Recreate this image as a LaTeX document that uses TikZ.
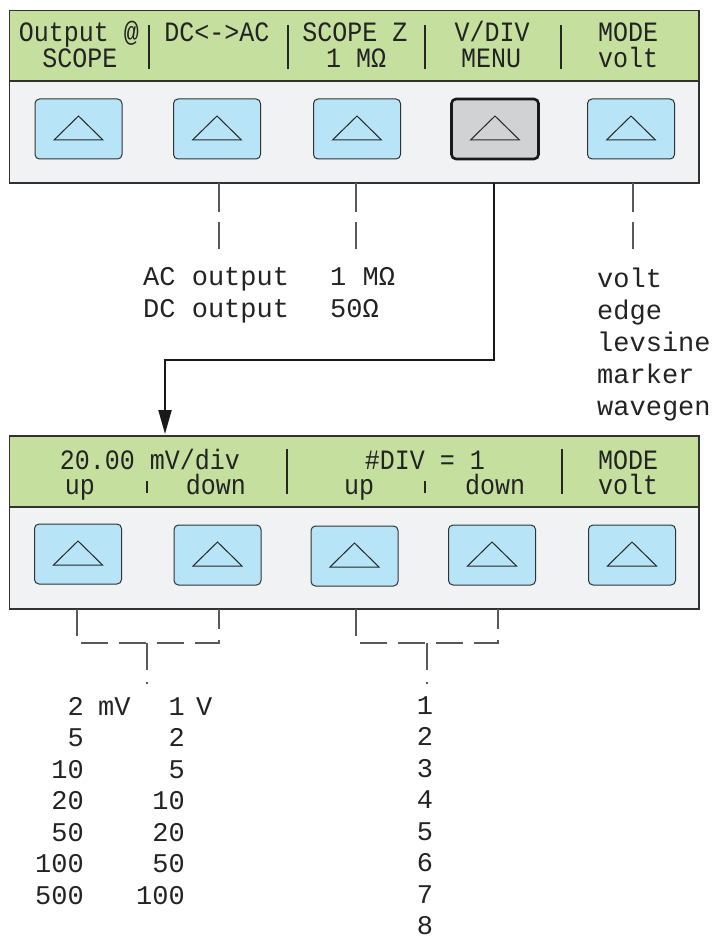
\documentclass[tikz,border=0pt]{standalone}
\usepackage{fontspec}
\usepackage{graphicx}
\newfontfamily\lcdfont{Liberation Mono}
\usetikzlibrary{arrows.meta,calc}
\definecolor{lcdgreen}{RGB}{197,223,158}
\definecolor{panelgrey}{RGB}{241,242,244}
\definecolor{btnblue}{RGB}{184,228,248}
\definecolor{btngrey}{RGB}{209,210,212}
\definecolor{edgecol}{RGB}{50,50,50}
\definecolor{inkcol}{RGB}{35,35,35}
\newcommand{\lcdtext}[1]{\scalebox{1}[1.12]{\lcdfont\fontsize{25}{25}\selectfont #1}}
\newcommand{\labfont}{\lcdfont\fontsize{27}{27}\selectfont}
\begin{document}
\begin{tikzpicture}[x=1pt,y=-1pt,
  panelbox/.style={rectangle, fill=panelgrey, draw=none, outer sep=0pt, inner sep=0pt},
  dispbox/.style={rectangle, fill=lcdgreen, draw=none, outer sep=0pt, inner sep=0pt},
  btn/.style={rectangle, rounded corners=4.5pt, draw=edgecol, line width=1pt, fill=btnblue, minimum width=87pt, minimum height=60pt, inner sep=0pt, outer sep=0pt},
  btnsel/.style={btn, fill=btngrey, draw=black!90, line width=2.6pt},
  tri/.style={draw=black!85, line width=1pt, line join=miter},
  dtxt/.style={inner sep=0pt, anchor=base, text=inkcol},
  lab/.style={inner sep=0pt, anchor=base west, font=\labfont, text=inkcol},
  sep/.style={line width=2pt, draw=black!85},
  smallsep/.style={line width=1.8pt, draw=black!85},
  conn/.style={line width=1.2pt, draw=black!65, dash pattern=on 29pt off 10pt},
  brk/.style={line width=1.2pt, draw=black!65, dash pattern=on 27pt off 11pt},
  stem/.style={line width=1.2pt, draw=black!65, dash pattern=on 27pt off 12pt on 1.5pt off 30pt},
  arr/.style={line width=2pt, draw=black!90, -{Triangle[length=24pt,width=13pt]}},
  outerframe/.style={line width=1.6pt, draw=edgecol},
  divider/.style={line width=1.2pt, draw=edgecol}
]
\useasboundingbox (0,0) rectangle (713,936);

% ---------------- Panel 1 ----------------
\node[panelbox, minimum width=689.5pt, minimum height=172.5pt] (p1) at (354.25,96.75) {};
\node[dispbox, minimum width=689.5pt, minimum height=70.5pt] (d1) at (354.25,45.75) {};
\draw[divider] (d1.south west) -- (d1.south east);
\draw[outerframe] (p1.north west) rectangle (p1.south east);

\draw[sep] (149,25) -- (149,69);
\draw[sep] (287.5,25) -- (287.5,69);
\draw[sep] (424.5,25) -- (424.5,69);
\draw[sep] (561,25) -- (561,69);

\node[dtxt] (t11) at (79,42) {\lcdtext{Output @}};
\node[dtxt] (t12) at (80,68) {\lcdtext{SCOPE}};
\node[dtxt] (t13) at (217,42) {\lcdtext{DC<->AC}};
\node[dtxt] (t14) at (355,42) {\lcdtext{SCOPE Z}};
\node[dtxt] (t15) at (356,68) {\lcdtext{1 MΩ}};
\node[dtxt] (t16) at (492,42) {\lcdtext{V/DIV}};
\node[dtxt] (t17) at (491,68) {\lcdtext{MENU}};
\node[dtxt] (t18) at (628,42) {\lcdtext{MODE}};
\node[dtxt] (t19) at (628,68) {\lcdtext{volt}};

\node[btn] (b11) at (78.5,129) {};
\node[btn] (b12) at (217,129) {};
\node[btn] (b13) at (357,129) {};
\node[btnsel] (b14) at (495,129) {};
\node[btn] (b15) at (631,129) {};

% ---------------- Panel 2 ----------------
\node[panelbox, minimum width=689.5pt, minimum height=173pt] (p2) at (354.25,522.5) {};
\node[dispbox, minimum width=689.5pt, minimum height=71pt] (d2) at (354.25,471.5) {};
\draw[divider] (d2.south west) -- (d2.south east);
\draw[outerframe] (p2.north west) rectangle (p2.south east);

\draw[sep] (287,449) -- (287,494);
\draw[sep] (562,449) -- (562,494);
\draw[smallsep] (147,481) -- (147,493);
\draw[smallsep] (425,481) -- (425,493);

\node[dtxt] (t21) at (150,469) {\lcdtext{20.00 mV/div}};
\node[dtxt] (t22) at (80,494) {\lcdtext{up}};
\node[dtxt] (t23) at (216,494) {\lcdtext{down}};
\node[dtxt] (t24) at (425,469) {\lcdtext{\#DIV = 1}};
\node[dtxt] (t25) at (359,494) {\lcdtext{up}};
\node[dtxt] (t26) at (495,494) {\lcdtext{down}};
\node[dtxt] (t27) at (628,469) {\lcdtext{MODE}};
\node[dtxt] (t28) at (628,494) {\lcdtext{volt}};

\node[btn] (b21) at (78,554) {};
\node[btn] (b22) at (217.5,555) {};
\node[btn] (b23) at (354.5,556) {};
\node[btn] (b24) at (492,555) {};
\node[btn] (b25) at (632,555) {};

% triangles
\foreach \b in {b11,b12,b13,b14,b15,b21,b22,b23,b24,b25}{
  \draw[tri] ([shift={(-24.5,11)}]\b.center) -- ([shift={(24.5,11)}]\b.center) -- ([shift={(0,-13)}]\b.center) -- cycle;
}

% ---------------- Panel 1 connectors ----------------
\coordinate (c12) at (219,249);
\coordinate (c13) at (356,249);
\coordinate (c15) at (633,249);
\draw[conn] (c12 |- p1.south) -- (c12);
\draw[conn] (c13 |- p1.south) -- (c13);
\draw[conn] (c15 |- p1.south) -- (c15);

\node[lab] (l1) at (143,285) {AC output};
\node[lab] (l2) at (143,317) {DC output};
\node[lab] (l3) at (330,285) {1 MΩ};
\node[lab] (l4) at (330,317) {50Ω};

\node[lab] (m1) at (597,287) {volt};
\node[lab] (m2) at (597,319) {edge};
\node[lab] (m3) at (597,351) {levsine};
\node[lab] (m4) at (597,383) {marker};
\node[lab] (m5) at (597,415) {wavegen};

% arrow from V/DIV MENU key to second panel
\coordinate (turn) at (165,360);
\coordinate (arrtip) at (165,434);
\draw[arr] (494,183) |- (turn) -- (arrtip);

% ---------------- Panel 2 connectors ----------------
\coordinate (k1) at (77,643);
\coordinate (k2) at (219,643);
\coordinate (k3) at (356,643);
\coordinate (k4) at (498,643);
\draw[brk] (k1 |- p2.south) -- (k1) -- (k2) -- (k2 |- p2.south);
\draw[brk] (k3 |- p2.south) -- (k3) -- (k4) -- (k4 |- p2.south);
\coordinate (s1) at (147,643);
\coordinate (s2) at (427,643);
\draw[stem] (s1) -- ++(0,41);
\draw[stem] (s2) -- ++(0,41);

% lower value lists
\foreach \v [count=\i from 0] in {2,5,10,20,50,100,500}{
  \node[lab, anchor=base east] (va\i) at (84,715+31.5*\i) {\v};
}
\foreach \v [count=\i from 0] in {1,2,5,10,20,50,100}{
  \node[lab, anchor=base east] (vb\i) at (185,715+31.5*\i) {\v};
}
\node[lab] (mvunit) at (98,715) {mV};
\node[lab] (vunit) at (196,715) {V};
\foreach \v [count=\i from 0] in {1,2,3,4,5,6,7,8}{
  \node[lab, anchor=base] (dv\i) at (425,714+31.5*\i) {\v};
}
\end{tikzpicture}
\end{document}
